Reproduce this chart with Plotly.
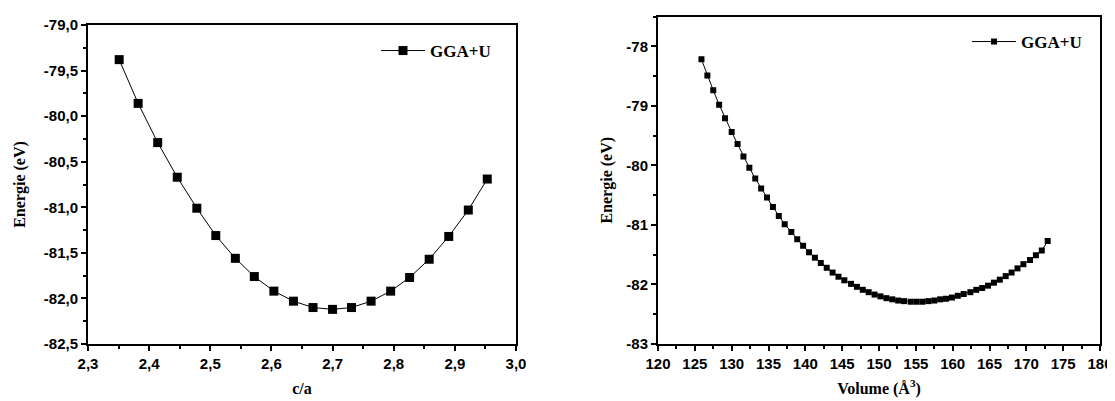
import plotly.graph_objects as go

# Left panel: energy vs c/a
ca_ratio = [2.351, 2.382, 2.414, 2.446, 2.478, 2.509, 2.541, 2.572, 2.604, 2.636,
            2.668, 2.700, 2.731, 2.763, 2.795, 2.826, 2.858, 2.890, 2.922, 2.953]
energy_ca = [-79.38, -79.86, -80.29, -80.67, -81.01, -81.31, -81.56, -81.76, -81.92, -82.03,
             -82.10, -82.12, -82.10, -82.03, -81.92, -81.77, -81.57, -81.32, -81.03, -80.69]

# Right panel: energy vs volume
volume = [125.9, 126.7, 127.5, 128.3, 129.1, 130.0, 130.8, 131.6, 132.4, 133.2,
          134.0, 134.8, 135.6, 136.4, 137.2, 138.1, 138.9, 139.7, 140.5, 141.3,
          142.1, 142.9, 143.7, 144.5, 145.3, 146.2, 147.0, 147.8, 148.6, 149.4,
          150.2, 151.0, 151.8, 152.6, 153.4, 154.3, 155.1, 155.9, 156.7, 157.5,
          158.3, 159.1, 159.9, 160.7, 161.5, 162.4, 163.2, 164.0, 164.8, 165.6,
          166.4, 167.2, 168.0, 168.8, 169.6, 170.5, 171.3, 172.1, 172.9]
energy_vol = [-78.22, -78.49, -78.74, -78.98, -79.21, -79.44, -79.64, -79.85, -80.04, -80.22,
              -80.39, -80.54, -80.70, -80.85, -80.99, -81.12, -81.24, -81.35, -81.46, -81.55,
              -81.64, -81.72, -81.80, -81.87, -81.93, -81.99, -82.04, -82.09, -82.13, -82.17,
              -82.20, -82.23, -82.25, -82.27, -82.28, -82.29, -82.29, -82.29, -82.28, -82.27,
              -82.25, -82.24, -82.22, -82.19, -82.16, -82.13, -82.09, -82.06, -82.02, -81.97,
              -81.92, -81.86, -81.80, -81.73, -81.66, -81.59, -81.51, -81.43, -81.27]

# Tick labels
ca_ticks = [2.3, 2.4, 2.5, 2.6, 2.7, 2.8, 2.9, 3.0]
ca_ticklabels = ["2,3", "2,4", "2,5", "2,6", "2,7", "2,8", "2,9", "3,0"]
eca_ticks = [-82.5, -82.0, -81.5, -81.0, -80.5, -80.0, -79.5, -79.0]
eca_ticklabels = ["-82,5", "-82,0", "-81,5", "-81,0", "-80,5", "-80,0", "-79,5", "-79,0"]
vol_ticks = [120, 125, 130, 135, 140, 145, 150, 155, 160, 165, 170, 175, 180]
vol_ticklabels = ["120", "125", "130", "135", "140", "145", "150", "155", "160", "165", "170", "175", "180"]
ev_ticks = [-83, -82, -81, -80, -79, -78]
ev_ticklabels = ["-83", "-82", "-81", "-80", "-79", "-78"]

series_name = "GGA+U"

OFF = 8  # page body margin
W, H = 1115 - OFF, 401 - OFF
def px_x(s):
    return (s - OFF) / W
def px_y(s):
    return 1 - (s - OFF) / H

def bold(labels):
    return ["<b>" + t + "</b>" for t in labels]

tickfont = dict(family="Arial, Liberation Sans", size=15, color="black", weight="bold")
titlefont = dict(family="Liberation Serif", size=16, color="black")
legfont = dict(family="Liberation Serif", size=17, color="black")

fig = go.Figure()
fig.add_trace(go.Scatter(x=ca_ratio, y=energy_ca, mode="lines+markers", name="<b>" + series_name + "</b>",
                         line=dict(color="black", width=1),
                         marker=dict(symbol="square", size=9, color="black"),
                         xaxis="x", yaxis="y", legend="legend"))
fig.add_trace(go.Scatter(x=volume, y=energy_vol, mode="lines+markers", name="<b>" + series_name + "</b>",
                         line=dict(color="black", width=1),
                         marker=dict(symbol="square", size=6, color="black"),
                         xaxis="x2", yaxis="y2", legend="legend2"))

axis_common = dict(showgrid=False, zeroline=False, showline=True, linecolor="black",
                   linewidth=2, mirror=True, ticks="outside", ticklen=5, tickwidth=2,
                   tickcolor="black", automargin=False, tickmode="array", tickfont=tickfont)

minor_common = dict(ticks="outside", ticklen=3, tickwidth=2, tickcolor="black")

fig.update_layout(
    width=W, height=H, margin=dict(l=0, r=0, t=0, b=0, autoexpand=False),
    paper_bgcolor="white", plot_bgcolor="white",
    showlegend=True,
    xaxis=dict(domain=[px_x(88), px_x(516)], range=[2.3, 3.0],
               tickvals=ca_ticks, ticktext=bold(ca_ticklabels), anchor="y",
               minor=dict(dtick=0.05, tick0=2.3, **minor_common),
               title=dict(text="<b>c/a</b>", font=titlefont, standoff=12), **axis_common),
    yaxis=dict(domain=[px_y(344), px_y(25)], range=[-82.5, -79.0],
               tickvals=eca_ticks, ticktext=bold(eca_ticklabels), anchor="x",
               minor=dict(dtick=0.25, tick0=-82.5, **minor_common),
               title=dict(text="<b>Energie (eV)</b>", font=titlefont, standoff=14), **axis_common),
    xaxis2=dict(domain=[px_x(658), px_x(1100)], range=[120, 180],
                tickvals=vol_ticks, ticktext=bold(vol_ticklabels), anchor="y2",
                minor=dict(dtick=2.5, tick0=120, **minor_common),
                title=dict(text="<b>Volume (Å<sup>3</sup>)</b>", font=titlefont, standoff=12), **axis_common),
    yaxis2=dict(domain=[px_y(344), px_y(16.5)], range=[-83, -77.5],
                tickvals=ev_ticks, ticktext=bold(ev_ticklabels), anchor="x2",
                minor=dict(dtick=0.5, tick0=-83, **minor_common),
                title=dict(text="<b>Energie (eV)</b>", font=titlefont, standoff=10), **axis_common),
    legend=dict(x=px_x(376), y=px_y(33), xanchor="left", yanchor="top", itemwidth=44,
                bgcolor="rgba(0,0,0,0)", borderwidth=0, font=legfont),
    legend2=dict(x=px_x(967), y=px_y(24), xanchor="left", yanchor="top", itemwidth=44,
                 bgcolor="rgba(0,0,0,0)", borderwidth=0, font=legfont),
)

fig.write_html("out.html")
